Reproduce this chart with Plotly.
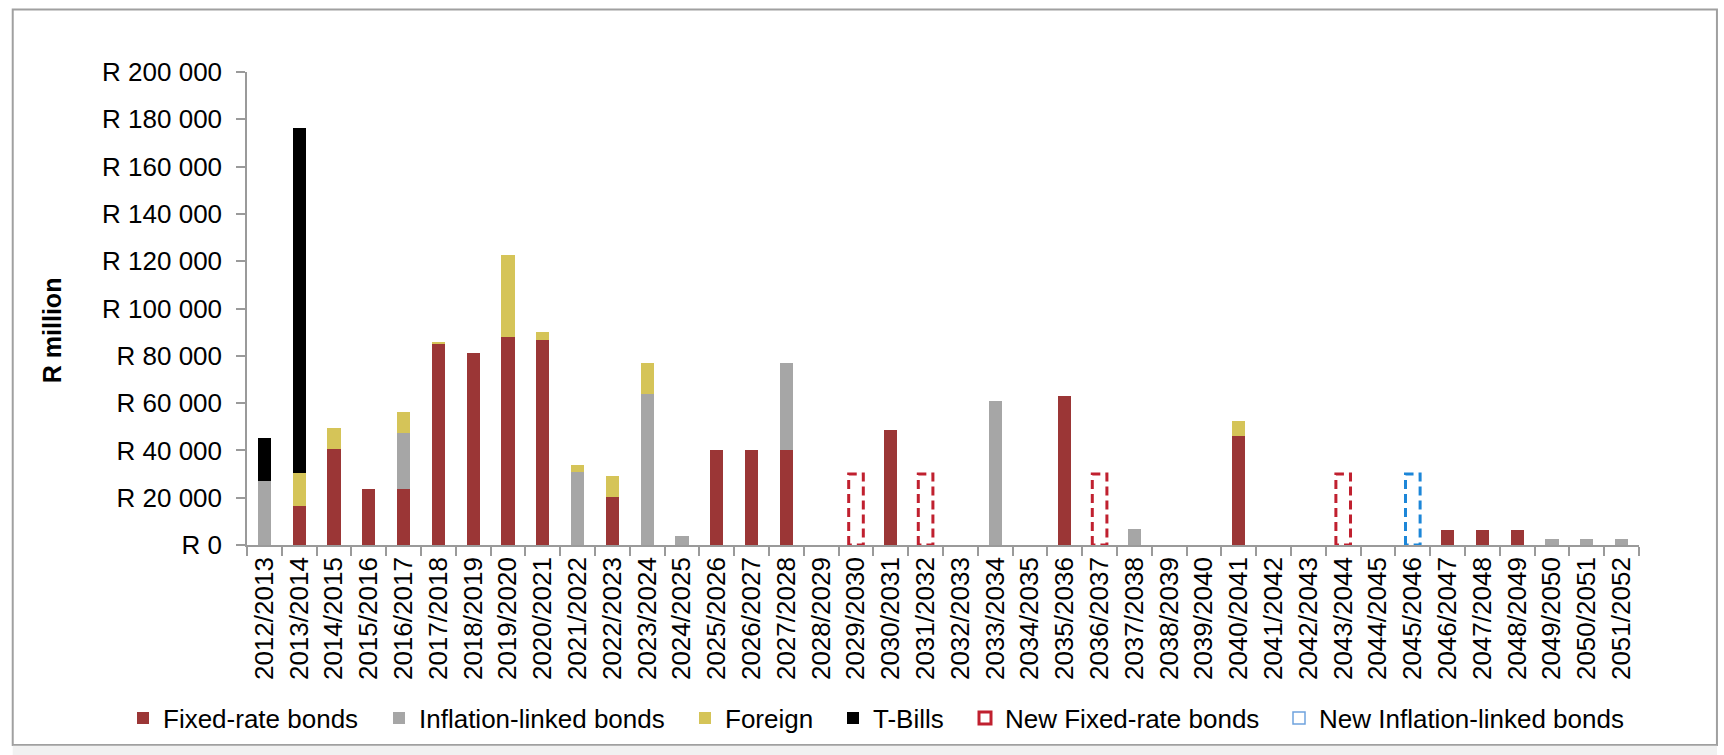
import plotly.graph_objects as go

categories = ["2012/2013", "2013/2014", "2014/2015", "2015/2016", "2016/2017", "2017/2018",
              "2018/2019", "2019/2020", "2020/2021", "2021/2022", "2022/2023", "2023/2024",
              "2024/2025", "2025/2026", "2026/2027", "2027/2028", "2028/2029", "2029/2030",
              "2030/2031", "2031/2032", "2032/2033", "2033/2034", "2034/2035", "2035/2036",
              "2036/2037", "2037/2038", "2038/2039", "2039/2040", "2040/2041", "2041/2042",
              "2042/2043", "2043/2044", "2044/2045", "2045/2046", "2046/2047", "2047/2048",
              "2048/2049", "2049/2050", "2050/2051", "2051/2052"]

fixed_rate = [0, 16500, 40800, 23500, 23500, 85000, 81000, 88000, 86500, 0,
              20500, 0, 0, 40300, 40300, 40300, 0, 0, 48500, 0,
              0, 0, 0, 63000, 0, 0, 0, 0, 46000, 0,
              0, 0, 0, 0, 6300, 6300, 6300, 0, 0, 0]
inflation_linked = [27000, 0, 0, 0, 24000, 0, 0, 0, 0, 31000,
                    0, 64000, 3600, 0, 0, 36500, 0, 0, 0, 0,
                    0, 61000, 0, 0, 0, 6900, 0, 0, 0, 0,
                    0, 0, 0, 0, 0, 0, 0, 2500, 2500, 2500]
foreign = [0, 14000, 8800, 0, 8900, 1000, 0, 34500, 3400, 3000,
           8700, 12900, 0, 0, 0, 0, 0, 0, 0, 0,
           0, 0, 0, 0, 0, 0, 0, 0, 6300, 0,
           0, 0, 0, 0, 0, 0, 0, 0, 0, 0]
t_bills = [18300, 145700] + [0] * 38
new_fixed_rate = [0] * 17 + [30000, 0, 30000, 0, 0, 0, 0, 30000] + [0] * 6 + [30000] + [0] * 8
new_inflation_linked = [0] * 33 + [30000] + [0] * 6

y_ticks = list(range(0, 200001, 20000))
y_tick_labels = ["R 0"] + ["R {:,}".format(v).replace(",", " ") for v in y_ticks[1:]]

FONT = "Liberation Sans, Arial, sans-serif"
RED = "#9B3636"
GREY = "#A6A6A6"
YELLOW = "#D5C458"
BLACK = "#000000"
NEW_RED = "#C0202F"
NEW_BLUE = "#1C86D8"
AXIS = "#9A9A9A"

W, H = 1724, 755
pos = list(range(len(categories)))
BAR_W = 0.38
BOX_W = 0.42

# legend marker left edges (px) for each legend entry
legend_px = [137, 393, 699, 847, 979, 1293]
LEG_Y = (H - 718) / H

fig = go.Figure()
series = [("Fixed-rate bonds", fixed_rate, RED),
          ("Inflation-linked bonds", inflation_linked, GREY),
          ("Foreign", foreign, YELLOW),
          ("T-Bills", t_bills, BLACK)]
for k, (name, vals, col) in enumerate(series):
    fig.add_trace(go.Bar(x=pos, y=vals, name=name, width=BAR_W,
                         legend="legend" if k == 0 else "legend%d" % (k + 1),
                         marker=dict(color=col, line=dict(width=0))))


def outline(vals):
    xs, ys = [], []
    for i, v in zip(pos, vals):
        if v > 0:
            xs += [i - BOX_W / 2, i - BOX_W / 2, i + BOX_W / 2, i + BOX_W / 2, i - BOX_W / 2, None]
            ys += [0, v, v, 0, 0, None]
    return xs, ys


new_series = [("New Fixed-rate bonds", new_fixed_rate, NEW_RED, NEW_RED, 3),
              ("New Inflation-linked bonds", new_inflation_linked, NEW_BLUE, "#6FA3DE", 1.5)]
for k, (name, vals, col, icon_col, icon_w) in enumerate(new_series):
    xs, ys = outline(vals)
    fig.add_trace(go.Scatter(x=xs, y=ys, mode="lines", showlegend=False, name=name,
                             line=dict(color=col, width=3, dash="9px,5px")))
    fig.add_trace(go.Bar(x=[None], y=[None], name=name, legend="legend%d" % (k + 5),
                         marker=dict(color="rgba(255,255,255,0)",
                                     line=dict(color=icon_col, width=icon_w))))

legends = {}
for k, px in enumerate(legend_px):
    key = "legend" if k == 0 else "legend%d" % (k + 1)
    legends[key] = dict(orientation="h", xref="container", yref="container",
                        x=(px - 14) / W, xanchor="left", y=LEG_Y, yanchor="middle",
                        font=dict(size=26, family=FONT, color="black"),
                        bgcolor="rgba(0,0,0,0)", borderwidth=0)

fig.update_layout(
    width=W, height=H,
    margin=dict(l=247, r=85, t=72, b=210, autoexpand=False),
    barmode="stack",
    paper_bgcolor="white", plot_bgcolor="white",
    font=dict(family=FONT, size=26, color="black"),
    showlegend=True,
    xaxis=dict(range=[-0.5, len(categories) - 0.5], tickmode="array", tickvals=pos,
               ticktext=categories, tickangle=-90, ticks="", showgrid=False,
               zeroline=False, showline=True, linecolor=AXIS, linewidth=1.5,
               tickfont=dict(size=26), automargin=False,
               minor=dict(tickmode="array", tickvals=[i - 0.5 for i in range(len(categories) + 1)],
                          ticks="outside", ticklen=9, tickcolor=AXIS, tickwidth=1.5,
                          showgrid=False)),
    yaxis=dict(range=[0, 200000], tickmode="array", tickvals=y_ticks, ticktext=y_tick_labels,
               ticks="outside", ticklen=9, tickcolor=AXIS, tickwidth=1.5, showgrid=False,
               zeroline=False, showline=True, linecolor=AXIS, linewidth=1.5,
               tickfont=dict(size=26), ticklabelstandoff=9, automargin=False),
    annotations=[dict(text="<b>R million</b>", xref="paper", yref="paper", x=-0.140, y=0.4545,
                      xanchor="center", yanchor="middle", textangle=-90, showarrow=False,
                      font=dict(size=25, family=FONT, color="black"))],
    shapes=[
        dict(type="rect", xref="paper", yref="paper", x0=-0.1683, x1=1.0560, y0=-0.4228, y1=1.1321,
             line=dict(color="#A0A0A0", width=2), fillcolor="rgba(0,0,0,0)", layer="below"),
        dict(type="rect", xref="paper", yref="paper", x0=-0.1683, x1=1.0560, y0=-0.46, y1=-0.4245,
             line=dict(width=0), fillcolor="#F1F1F1", layer="below"),
    ],
    **legends,
)

fig.write_html("out.html")
